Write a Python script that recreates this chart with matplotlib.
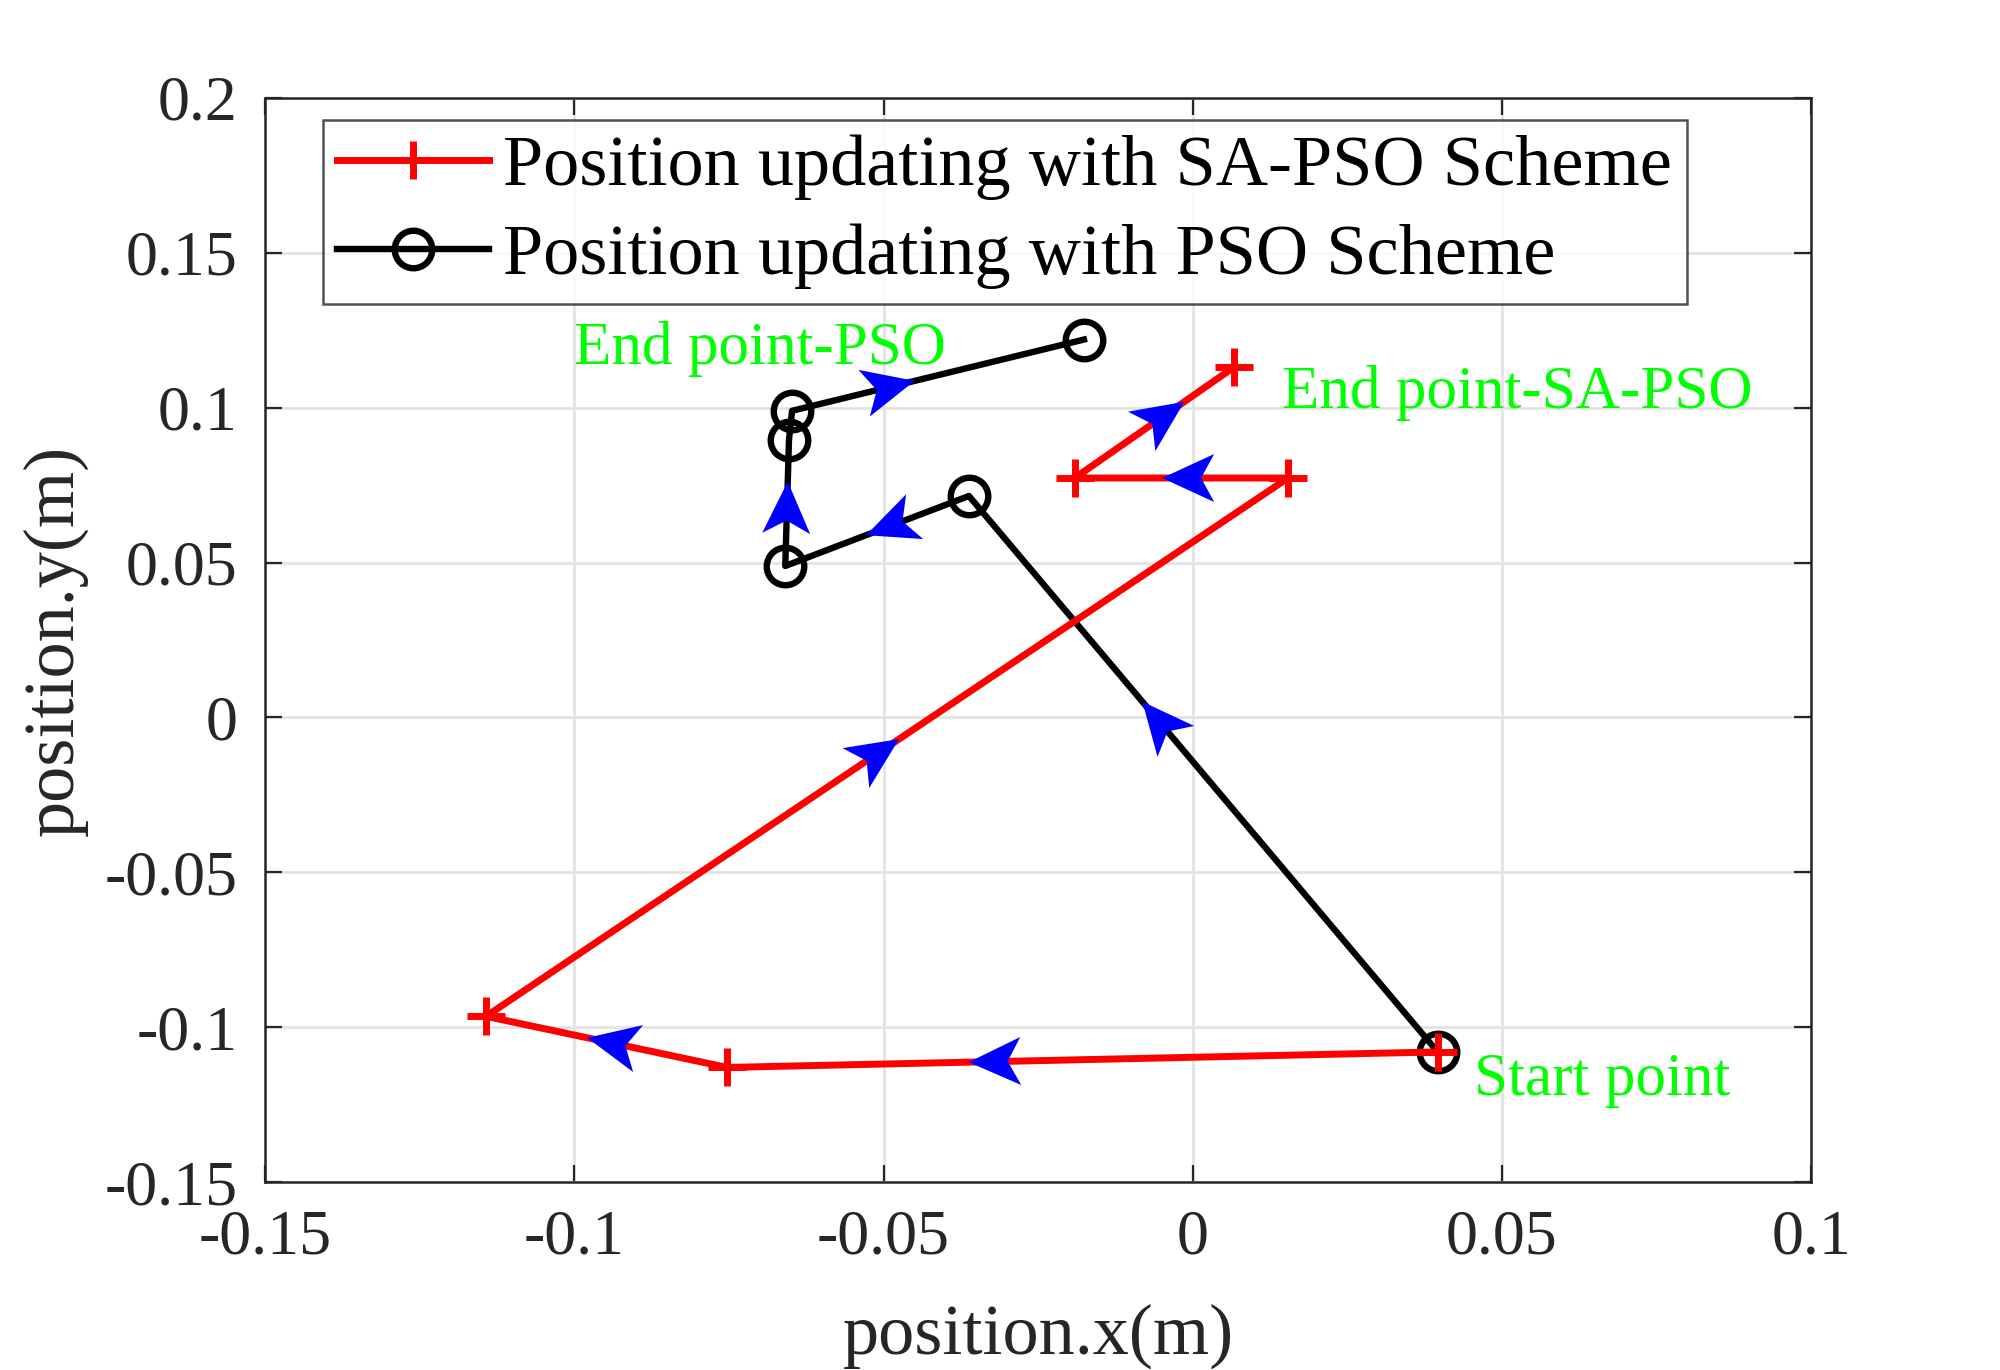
import numpy as np
import matplotlib
matplotlib.use("Agg")
import matplotlib.pyplot as plt
from matplotlib.patches import Polygon
from matplotlib.transforms import IdentityTransform

plt.rcParams['font.family'] = ['Liberation Serif', 'DejaVu Serif']
plt.rcParams['mathtext.fontset'] = 'stix'

# path of the SA-PSO scheme (red) and the PSO scheme (black)
sapso_x = [0.0396, -0.0753, -0.1143, 0.0154, -0.0191, 0.0066]
sapso_y = [-0.108, -0.113, -0.0965, 0.0773, 0.0773, 0.113]
pso_x = [0.0396, -0.0362, -0.0659, -0.0653, -0.0648, -0.0176]
pso_y = [-0.108, 0.0715, 0.0489, 0.0896, 0.0990, 0.1220]

# where the direction arrows sit along each segment (None = no arrow)
sapso_arrow_pos = [0.66, 0.58, 0.515, 0.59, 0.69]
pso_arrow_pos = [0.63, 0.56, 0.67, None, 0.42]

x_ticks = [-0.15, -0.1, -0.05, 0, 0.05, 0.1]
y_ticks = [-0.15, -0.1, -0.05, 0, 0.05, 0.1, 0.15, 0.2]

DPI = 200
fig = plt.figure(figsize=(10, 6.85), dpi=DPI)
ax = fig.add_axes([0.1326, 0.1372, 0.7730, 0.7913])

ax.plot(sapso_x, sapso_y, color='red', lw=2.5, marker='+', ms=14, mew=2.5,
        label='Position updating with SA-PSO Scheme', zorder=3)
ax.plot(pso_x, pso_y, color='black', lw=2.3, marker='o', ms=13.5, mew=2.3,
        mfc='none', label='Position updating with PSO Scheme', zorder=2)

ax.set_xlim(-0.15, 0.1)
ax.set_ylim(-0.15, 0.2)
ax.set_xticks(x_ticks)
ax.set_yticks(y_ticks)
ax.set_xticklabels(['%g' % v for v in x_ticks])
ax.set_yticklabels(['%g' % v for v in y_ticks])
ax.tick_params(direction='in', length=6, width=0.8, top=True, right=True,
               labelsize=23, colors='#262626', pad=10)
ax.grid(True, color='#e3e3e3', lw=1.0)
ax.set_axisbelow(True)
for s in ax.spines.values():
    s.set_color('#262626')
    s.set_linewidth(0.9)

ax.set_xlabel('position.x(m)', fontsize=26, color='#262626', labelpad=13)
ax.set_ylabel('position.y(m)', fontsize=26, color='#262626', labelpad=6)

leg = ax.legend(loc='upper left', fontsize=26, bbox_to_anchor=(0.028, 0.993),
                frameon=True, fancybox=False, edgecolor='#262626',
                handlelength=2.1, borderpad=0.2, labelspacing=0.33,
                handletextpad=0.2, borderaxespad=0.2)
leg.get_frame().set_linewidth(0.9)

ax.text(-0.1, 0.114, 'End point-PSO', color='#00ff00', fontsize=22)
ax.text(0.0145, 0.1, 'End point-SA-PSO', color='#00ff00', fontsize=22)
ax.text(0.0455, -0.122, 'Start point', color='#00ff00', fontsize=22)

# arrow heads drawn in pixel space (MATLAB style swept-back heads)
L, W, N = 52.0, 24.0, 39.0


def draw_heads(xs, ys, fracs):
    pts = ax.transData.transform(np.column_stack([xs, ys]))
    for i, f in enumerate(fracs):
        if f is None:
            continue
        p0, p1 = pts[i], pts[i + 1]
        d = p1 - p0
        d = d / np.hypot(*d)
        n = np.array([-d[1], d[0]])
        tip = p0 + f * (p1 - p0)
        verts = [tip, tip - L * d + W * n, tip - N * d, tip - L * d - W * n]
        ax.add_patch(Polygon(verts, closed=True, transform=IdentityTransform(),
                             color='blue', lw=0, zorder=5))


draw_heads(sapso_x, sapso_y, sapso_arrow_pos)
draw_heads(pso_x, pso_y, pso_arrow_pos)

fig.savefig('out.png', dpi=DPI, facecolor='white')
